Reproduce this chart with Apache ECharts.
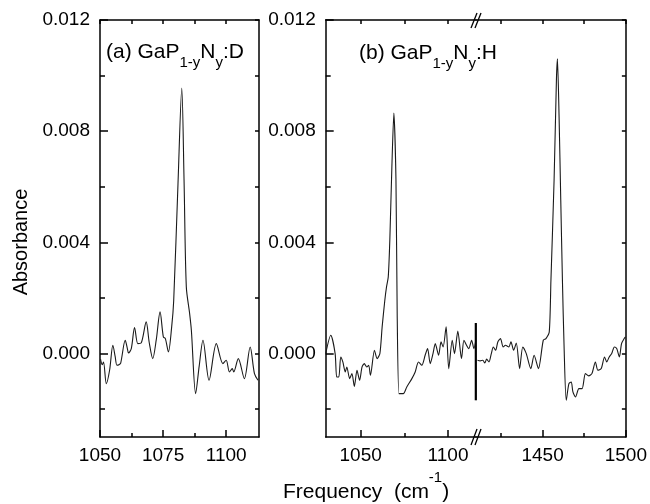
<!DOCTYPE html>
<html>
<head>
<meta charset="utf-8">
<script src="https://cdn.jsdelivr.net/npm/echarts@6/dist/echarts.min.js"></script>
<style>html,body{margin:0;padding:0;background:#fff}#c{width:650px;height:504px}</style>
</head>
<body>
<div id="c"></div>
<script>
// ---- data ----
// Panel (a) GaP1-yNy:D
const freqA = [1050.2,1050.9,1051.4,1052.5,1053.8,1055.1,1056.0,1056.7,1057.5,1058.2,1060.0,1060.8,1061.3,1062.4,1063.7,1065.0,1066.3,1068.3,1069.5,1070.9,1072.3,1073.8,1075.1,1075.9,1077.1,1078.4,1079.2,1080.9,1082.4,1083.3,1084.2,1085.5,1086.2,1087.9,1089.3,1090.8,1093.2,1096.1,1098.7,1100.0,1101.3,1102.4,1103.0,1104.8,1107.2,1109.5,1111.2,1112.6];
const absA = [-0.0002,-0.0004,-0.0003,-0.00108,-0.0006,0.0003,-0.0001,-0.00042,-0.0004,-0.00034,0.00048,0.0002,0.00002,0.00018,0.00094,0.00036,0.00038,0.00114,0.0004,-0.00018,0.0005,0.0015,0.0006,0.00054,0.00006,0.00096,0.0019,0.0061,0.00955,0.00625,0.0024,0.00145,0.00084,-0.00144,-0.00045,0.00048,-0.00096,0.00036,-0.00036,-0.00024,-0.00066,-0.00054,-0.00066,-0.00018,-0.0009,0.00024,-0.00072,-0.00096];
// Panel (b) GaP1-yNy:H, low-frequency segment
const freqB1 = [1030.0,1032.9,1035.4,1036.3,1037.5,1038.6,1039.8,1041.2,1042.1,1043.7,1045.0,1046.4,1047.9,1049.4,1050.8,1052.1,1053.5,1054.6,1055.6,1057.9,1059.4,1061.0,1062.3,1063.8,1064.8,1065.8,1066.7,1067.9,1069.0,1070.2,1070.9,1071.9,1073.1,1074.4,1076.4,1079.3,1081.2,1083.1,1085.0,1086.9,1088.3,1089.8,1091.4,1092.7,1094.6,1096.0,1097.2,1098.9,1100.4,1102.4,1103.7,1105.6,1107.7,1109.1,1110.6,1111.9,1113.5,1114.8,1115.9];
const absB1 = [0.0,0.00066,0.0,-0.00084,-0.00084,-0.00012,-0.0003,-0.00066,-0.00048,-0.0009,-0.00072,-0.00118,-0.0006,-0.00096,-0.00048,-0.00036,-0.00048,-0.00042,-0.00078,0.00012,-0.00018,0.0,0.00096,0.0019,0.0024,0.00276,0.0041,0.0068,0.00865,0.00625,0.00144,-0.00144,-0.00144,-0.00144,-0.0012,-0.0009,-0.00066,-0.0003,-0.00042,-0.00006,0.00018,-0.00036,0.0,0.00036,-0.00006,0.00042,0.00024,0.00096,-0.00054,0.00048,0.0,0.00081,-0.00018,0.00048,0.0003,0.00018,0.00048,0.00018,0.00048];
// vertical step at the axis break
const breakFreq = [1115.9,1115.9];
const breakAbs = [0.0011,-0.00168];
// Panel (b), high-frequency segment
const freqB2 = [1410.9,1412.5,1414.1,1415.3,1416.4,1417.8,1419.2,1420.4,1421.8,1423.1,1424.7,1426.3,1427.7,1429.7,1431.0,1432.6,1434.2,1436.2,1438.1,1440.2,1442.9,1444.9,1447.5,1450.4,1452.0,1454.0,1455.0,1456.9,1458.3,1458.9,1459.9,1460.9,1461.9,1462.9,1464.2,1465.8,1467.2,1468.2,1469.8,1471.8,1473.7,1475.7,1477.7,1479.6,1481.7,1483.2,1485.2,1487.2,1488.5,1490.0,1491.5,1493.1,1494.5,1496.1,1497.4,1499.0,1499.8];
const absB2 = [-0.00024,-0.00026,-0.00024,-0.00034,-0.0002,-0.0003,0.0,0.00024,0.00012,0.00042,0.00054,0.00024,0.0003,0.00024,0.00042,0.00012,0.00038,-0.00054,0.00024,0.0,-0.00054,-0.00006,-0.00054,0.00048,0.00054,0.00078,0.00264,0.00625,0.00985,0.0106,0.0085,0.00553,0.00264,0.00024,-0.00168,-0.00108,-0.00102,-0.00138,-0.00156,-0.00126,-0.00126,-0.00072,-0.0008,-0.00072,-0.0003,-0.0006,-0.00054,-0.00012,-0.0003,-0.00012,0.0,0.00024,0.00018,-0.00012,0.00036,0.00054,0.0006];
// ticks
const yLabels = [0, 0.004, 0.008, 0.012];
const yMinor = [-0.002, 0.002, 0.006, 0.010];
const xLabelsA = [1050, 1075, 1100];
const xMinorA = [1062.5, 1087.5];
const xLabelsB1 = [1050, 1100];
const xMinorB1 = [1075];
const xLabelsB2 = [1450, 1500];
const xMinorB2 = [1425, 1475];

const zip = (a, b) => a.map((v, i) => [v, b[i]]);

const FONT = 'Liberation Sans, Arial, sans-serif';
const AX = {color: '#000', width: 1.5};

function xAxes(grid, min, max, major, minor) {
  return [
    {gridIndex: grid, type: 'value', min, max, position: 'bottom',
     axisLine: {show: true, onZero: false, lineStyle: AX},
     axisTick: {show: true, inside: true, length: 7, customValues: major, lineStyle: AX},
     axisLabel: {show: true, customValues: major, margin: 9, color: '#000', fontFamily: FONT, fontSize: 19,
                 formatter: v => String(Math.round(v))},
     splitLine: {show: false}},
    {gridIndex: grid, type: 'value', min, max, position: 'bottom',
     axisLine: {show: false, onZero: false},
     axisTick: {show: true, inside: true, length: 4, customValues: minor, lineStyle: AX},
     axisLabel: {show: false}, splitLine: {show: false}},
    {gridIndex: grid, type: 'value', min, max, position: 'top',
     axisLine: {show: true, onZero: false, lineStyle: AX},
     axisTick: {show: true, inside: true, length: 4, customValues: major.concat(minor), lineStyle: AX},
     axisLabel: {show: false}, splitLine: {show: false}}
  ];
}
function yLeft(grid) {
  return [
    {gridIndex: grid, type: 'value', min: -0.003, max: 0.012, position: 'left',
     axisLine: {show: true, onZero: false, lineStyle: AX},
     axisTick: {show: true, inside: true, length: 8, customValues: yLabels, lineStyle: AX},
     axisLabel: {show: true, customValues: yLabels, margin: 10, color: '#000', fontFamily: FONT, fontSize: 19,
                 formatter: v => Math.abs(v) < 1e-9 ? '0.000' : v.toFixed(3)},
     splitLine: {show: false}},
    {gridIndex: grid, type: 'value', min: -0.003, max: 0.012, position: 'left',
     axisLine: {show: false, onZero: false},
     axisTick: {show: true, inside: true, length: 5, customValues: yMinor, lineStyle: AX},
     axisLabel: {show: false}, splitLine: {show: false}}
  ];
}
function yRight(grid) {
  return {gridIndex: grid, type: 'value', min: -0.003, max: 0.012, position: 'right',
     axisLine: {show: true, onZero: false, lineStyle: AX},
     axisTick: {show: true, inside: true, length: 4, customValues: yLabels.concat(yMinor), lineStyle: AX},
     axisLabel: {show: false}, splitLine: {show: false}};
}

const lineStyle = {color: '#1a1a1a', width: 1.1};
const chart = echarts.init(document.getElementById('c'), null, {renderer: 'canvas'});
chart.setOption({
  backgroundColor: '#fff',
  animation: false,
  grid: [
    {left: 100, top: 20, width: 159, height: 417},
    {left: 325.7, top: 20, width: 150.3, height: 417},
    {left: 476, top: 20, width: 151.7, height: 417}
  ],
  xAxis: [].concat(
    xAxes(0, 1050, 1113, xLabelsA, xMinorA),
    xAxes(1, 1030, 1116, xLabelsB1, xMinorB1),
    xAxes(2, 1410, 1500, xLabelsB2, xMinorB2)
  ),
  yAxis: [].concat(yLeft(0), [yRight(0)], yLeft(1), [yRight(2)]),
  series: [
    {type: 'line', xAxisIndex: 0, yAxisIndex: 0, data: zip(freqA, absA), showSymbol: false, smooth: 0.3, lineStyle},
    {type: 'line', xAxisIndex: 3, yAxisIndex: 3, data: zip(freqB1, absB1), showSymbol: false, smooth: 0.25, lineStyle},
    {type: 'line', xAxisIndex: 3, yAxisIndex: 3, data: zip(breakFreq, breakAbs), showSymbol: false, clip: false, lineStyle: {color: '#000', width: 2.2}},
    {type: 'line', xAxisIndex: 6, yAxisIndex: 5, data: zip(freqB2, absB2), showSymbol: false, smooth: 0.25, lineStyle}
  ],
  graphic: [
    {type: 'text', left: 106, top: 42, z: 10, style: {
      text: '{m|(a) GaP}{s|1-y}{m|N}{s|y}{m|:D}', fill: '#000', font: '21px ' + FONT,
      rich: {m: {fontSize: 21, fontFamily: FONT, lineHeight: 21, verticalAlign: 'top', fill: '#000'},
             s: {fontSize: 15, fontFamily: FONT, lineHeight: 28, verticalAlign: 'bottom', fill: '#000'}}}},
    {type: 'text', left: 359, top: 43, z: 10, style: {
      text: '{m|(b) GaP}{s|1-y}{m|N}{s|y}{m|:H}', fill: '#000', font: '21px ' + FONT,
      rich: {m: {fontSize: 21, fontFamily: FONT, lineHeight: 21, verticalAlign: 'top', fill: '#000'},
             s: {fontSize: 15, fontFamily: FONT, lineHeight: 28, verticalAlign: 'bottom', fill: '#000'}}}},
    {type: 'text', x: 21, y: 242, rotation: Math.PI / 2, z: 10, style: {
      text: 'Absorbance', fill: '#000', font: '20px ' + FONT, align: 'center', verticalAlign: 'middle'}},
    {type: 'text', left: 283, top: 470, z: 10, style: {
      text: '{m|Frequency  (cm}{p|-1}{m|)}', fill: '#000', font: '21px ' + FONT,
      rich: {m: {fontSize: 21, fontFamily: FONT, lineHeight: 33, verticalAlign: 'bottom', fill: '#000'},
             p: {fontSize: 15, fontFamily: FONT, lineHeight: 15, verticalAlign: 'top', fill: '#000'}}}},
    // axis-break marks
    {type: 'line', z: 10, shape: {x1: 471, y1: 28, x2: 477, y2: 13}, style: {stroke: '#000', lineWidth: 1.3}},
    {type: 'line', z: 10, shape: {x1: 475, y1: 28, x2: 481, y2: 13}, style: {stroke: '#000', lineWidth: 1.3}},
    {type: 'line', z: 10, shape: {x1: 471, y1: 445, x2: 477, y2: 429}, style: {stroke: '#000', lineWidth: 1.3}},
    {type: 'line', z: 10, shape: {x1: 475, y1: 445, x2: 481, y2: 429}, style: {stroke: '#000', lineWidth: 1.3}}
  ]
});
</script>
</body>
</html>
